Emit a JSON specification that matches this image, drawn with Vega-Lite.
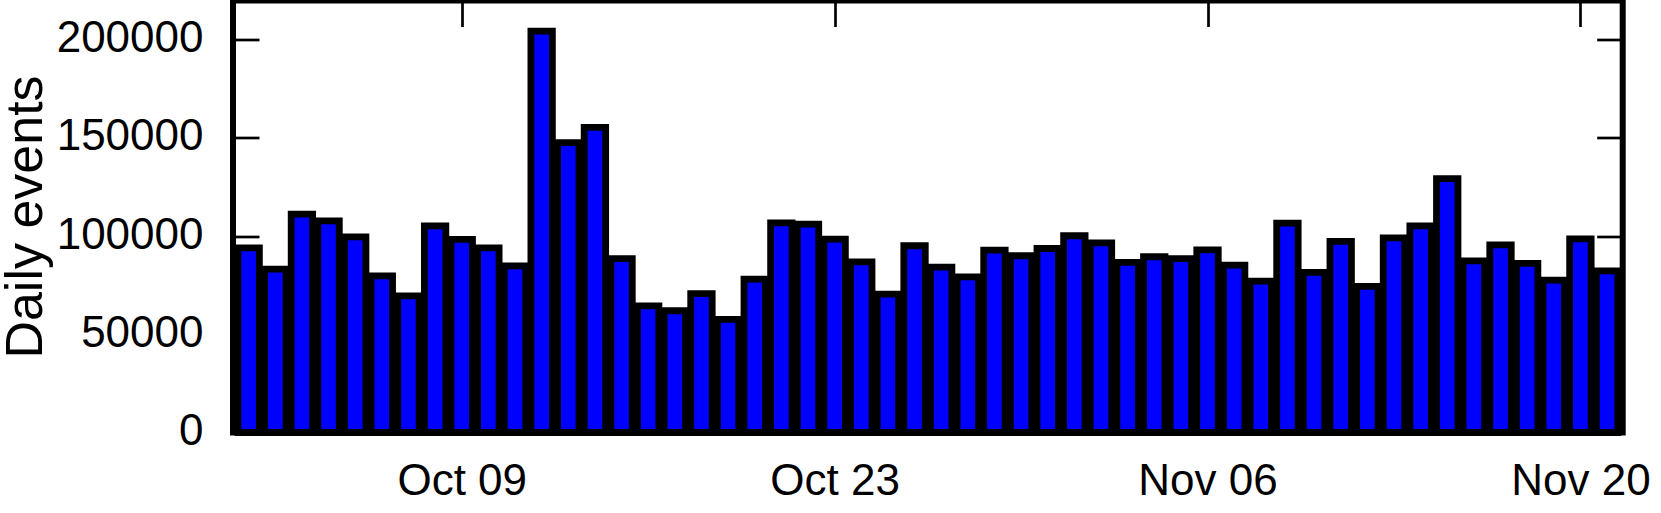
{
  "$schema": "https://vega.github.io/schema/vega-lite/v6.json",
  "width": 1389.7,
  "height": 432,
  "autosize": {"type": "none"},
  "padding": {"left": 233, "top": 0.5, "right": 38.3, "bottom": 80.5},
  "background": "white",
  "config": {
    "view": {"stroke": "black", "strokeWidth": 6},
    "axis": {
      "grid": false,
      "domain": false,
      "tickColor": "black",
      "tickWidth": 2.7,
      "tickSize": -26,
      "labelFont": "Liberation Sans",
      "labelFontSize": 44,
      "labelColor": "black",
      "titleFont": "Liberation Sans",
      "titleColor": "black",
      "zindex": 1
    }
  },
  "data": {
    "values": [
      {"date": "2013-10-01", "events": 94000},
      {"date": "2013-10-02", "events": 83200},
      {"date": "2013-10-03", "events": 111200},
      {"date": "2013-10-04", "events": 107800},
      {"date": "2013-10-05", "events": 99600},
      {"date": "2013-10-06", "events": 79800},
      {"date": "2013-10-07", "events": 69600},
      {"date": "2013-10-08", "events": 105200},
      {"date": "2013-10-09", "events": 98300},
      {"date": "2013-10-10", "events": 94000},
      {"date": "2013-10-11", "events": 84900},
      {"date": "2013-10-12", "events": 204400},
      {"date": "2013-10-13", "events": 147600},
      {"date": "2013-10-14", "events": 155400},
      {"date": "2013-10-15", "events": 88500},
      {"date": "2013-10-16", "events": 64500},
      {"date": "2013-10-17", "events": 62000},
      {"date": "2013-10-18", "events": 70700},
      {"date": "2013-10-19", "events": 57600},
      {"date": "2013-10-20", "events": 78100},
      {"date": "2013-10-21", "events": 106800},
      {"date": "2013-10-22", "events": 106100},
      {"date": "2013-10-23", "events": 98500},
      {"date": "2013-10-24", "events": 86900},
      {"date": "2013-10-25", "events": 70500},
      {"date": "2013-10-26", "events": 95100},
      {"date": "2013-10-27", "events": 84200},
      {"date": "2013-10-28", "events": 79300},
      {"date": "2013-10-29", "events": 92900},
      {"date": "2013-10-30", "events": 90000},
      {"date": "2013-10-31", "events": 93700},
      {"date": "2013-11-01", "events": 100200},
      {"date": "2013-11-02", "events": 96600},
      {"date": "2013-11-03", "events": 86600},
      {"date": "2013-11-04", "events": 89500},
      {"date": "2013-11-05", "events": 88500},
      {"date": "2013-11-06", "events": 93000},
      {"date": "2013-11-07", "events": 85200},
      {"date": "2013-11-08", "events": 77100},
      {"date": "2013-11-09", "events": 106600},
      {"date": "2013-11-10", "events": 81500},
      {"date": "2013-11-11", "events": 97300},
      {"date": "2013-11-12", "events": 74400},
      {"date": "2013-11-13", "events": 99100},
      {"date": "2013-11-14", "events": 105200},
      {"date": "2013-11-15", "events": 129300},
      {"date": "2013-11-16", "events": 87400},
      {"date": "2013-11-17", "events": 95600},
      {"date": "2013-11-18", "events": 86100},
      {"date": "2013-11-19", "events": 77600},
      {"date": "2013-11-20", "events": 98600},
      {"date": "2013-11-21", "events": 82300}
    ]
  },
  "layer": [
    {
      "mark": {"type": "bar", "width": 21.46, "fill": "#0000ff", "stroke": "black", "strokeWidth": 6.8},
      "encoding": {
        "x": {
          "field": "date",
          "type": "temporal",
          "scale": {
            "type": "utc",
            "nice": false,
            "domain": [
              {"year": 2013, "month": 9, "date": 30, "hours": 14, "minutes": 24, "utc": true},
              {"year": 2013, "month": 11, "date": 21, "hours": 9, "minutes": 36, "utc": true}
            ]
          },
          "axis": {
            "orient": "bottom",
            "title": null,
            "format": "%b %d",
            "values": [
              {"year": 2013, "month": 10, "date": 9, "utc": true},
              {"year": 2013, "month": 10, "date": 23, "utc": true},
              {"year": 2013, "month": 11, "date": 6, "utc": true},
              {"year": 2013, "month": 11, "date": 20, "utc": true}
            ],
            "labelBaseline": "alphabetic",
            "labelPadding": 87.5,
            "labelFlush": false,
            "labelOverlap": false
          }
        },
        "y": {
          "field": "events",
          "type": "quantitative",
          "scale": {"domain": [0, 220000], "nice": false, "zero": true},
          "axis": {
            "orient": "left",
            "title": "Daily events",
            "titleFontSize": 52,
            "titleFontWeight": "normal",
            "titleAngle": -90,
            "titleAlign": "center",
            "titleBaseline": "alphabetic",
            "titleX": -191.3,
            "titleY": 216,
            "values": [0, 50000, 100000, 150000, 200000],
            "format": "d",
            "labelPadding": 56,
            "labelOffset": -1,
            "labelBaseline": "middle",
            "labelFlush": false,
            "labelOverlap": false
          }
        }
      }
    },
    {
      "mark": {"type": "bar", "width": 21.46, "opacity": 0},
      "encoding": {
        "x": {
          "field": "date",
          "type": "temporal",
          "axis": {
            "orient": "top",
            "title": null,
            "labels": false,
            "values": [
              {"year": 2013, "month": 10, "date": 9, "utc": true},
              {"year": 2013, "month": 10, "date": 23, "utc": true},
              {"year": 2013, "month": 11, "date": 6, "utc": true},
              {"year": 2013, "month": 11, "date": 20, "utc": true}
            ]
          }
        },
        "y": {
          "field": "events",
          "type": "quantitative",
          "axis": {
            "orient": "right",
            "title": null,
            "labels": false,
            "values": [0, 50000, 100000, 150000, 200000]
          }
        }
      }
    }
  ],
  "resolve": {"axis": {"x": "independent", "y": "independent"}}
}
